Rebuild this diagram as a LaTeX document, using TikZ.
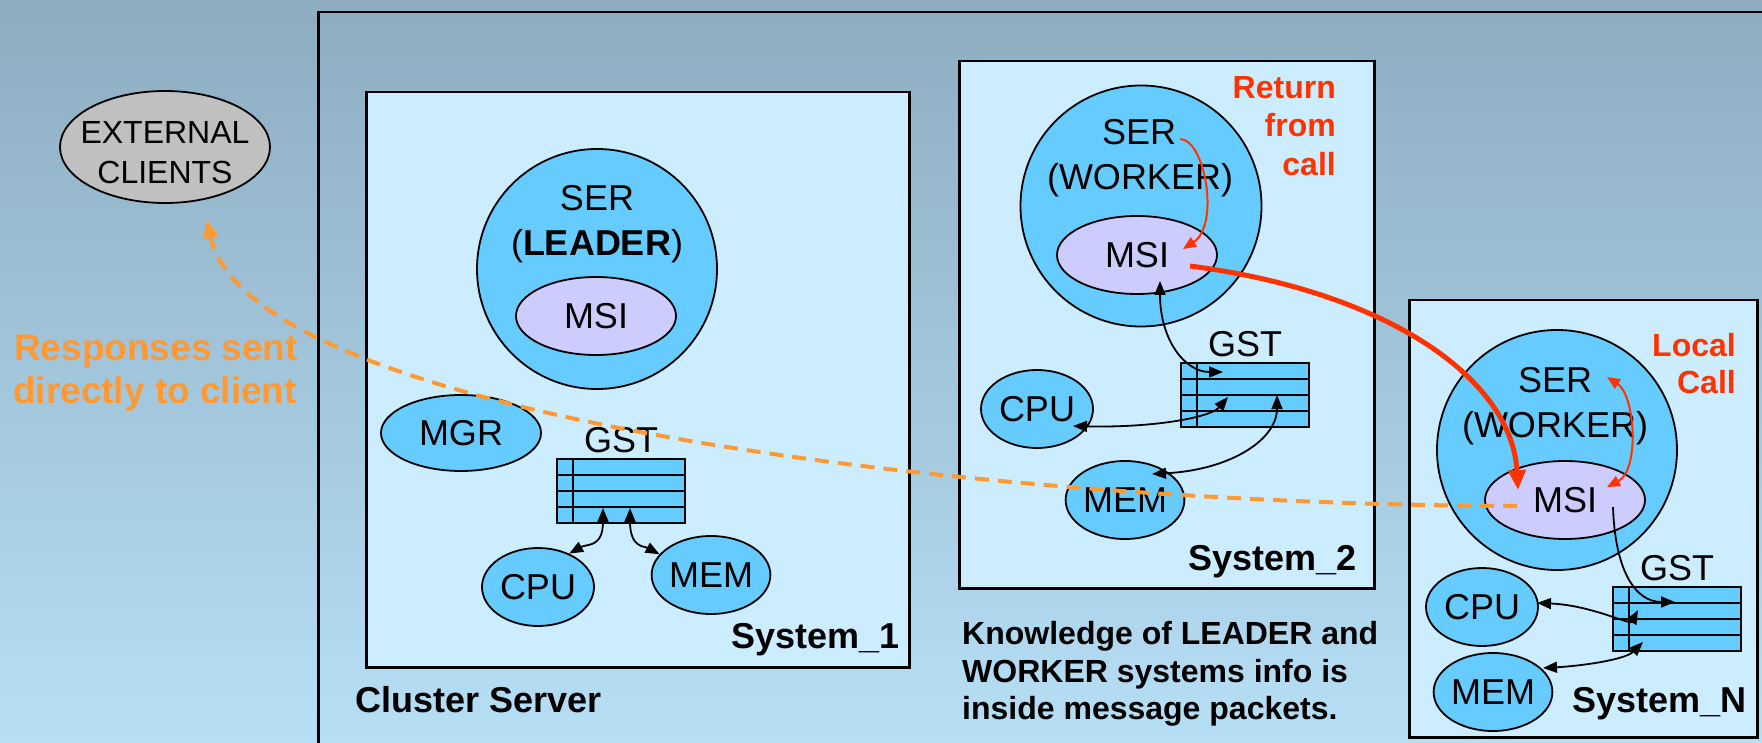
\documentclass[tikz,border=0pt]{standalone}
\usepackage{fontspec}
\setmainfont{Liberation Sans}
\usetikzlibrary{arrows.meta,calc,shapes.geometric}

\definecolor{bgtop}{RGB}{141,172,192}
\definecolor{bgbot}{RGB}{182,223,246}
\definecolor{sysfill}{HTML}{CCECFF}
\definecolor{serfill}{HTML}{66CCFF}
\definecolor{msifill}{HTML}{CCCCFF}
\definecolor{extfill}{HTML}{C0C0C0}
\definecolor{callred}{HTML}{FF3300}
\definecolor{respor}{HTML}{FF9933}

\tikzset{
  clusterbox/.style={draw=black, line width=2.5pt, inner sep=0, anchor=north west},
  sysbox/.style={draw=black, line width=2.5pt, fill=sysfill, inner sep=0, anchor=north west},
  sercircle/.style={circle, draw=black, line width=1.8pt, fill=serfill, inner sep=0, minimum size=#1},
  ovalnode/.style={ellipse, draw=black, line width=1.8pt, inner sep=0,
                   font=\fontsize{36}{43}\selectfont},
  msinode/.style={ovalnode, fill=msifill, minimum width=160pt, minimum height=78pt},
  devnode/.style={ovalnode, fill=serfill, minimum width=112pt, minimum height=78pt},
  gstbox/.style={draw=black, line width=2.5pt, fill=serfill, inner sep=0, outer sep=0,
                 minimum width=128pt, minimum height=64pt, anchor=north west},
  gstline/.style={draw=black, line width=2.5pt},
  lbltext/.style={inner sep=0, font=\fontsize{36}{43}\selectfont},
  clienttext/.style={inner sep=0, font=\fontsize{32}{39}\selectfont, anchor=base},
  sysname/.style={inner sep=0, font=\fontsize{36}{43}\selectfont\bfseries},
  notetext/.style={inner sep=0, font=\fontsize{32}{38}\selectfont\bfseries},
  calltext/.style={notetext, text=callred, anchor=base east},
  resptext/.style={inner sep=0, font=\fontsize{37}{44}\selectfont\bfseries, text=respor, anchor=base west},
  dbllink/.style={line width=1.8pt,
    {Triangle[length=14pt,width=11pt]}-{Triangle[length=14pt,width=11pt]}},
  onelink/.style={line width=1.8pt, -{Triangle[length=14pt,width=11pt]}},
  redone/.style={draw=callred, line width=2pt, -{Triangle[length=13pt,width=11pt]}},
  reddbl/.style={draw=callred, line width=2pt,
    {Triangle[length=13pt,width=11pt]}-{Triangle[length=13pt,width=11pt]}},
  callarrow/.style={draw=callred, line width=5pt, -{Triangle[length=20pt,width=17pt]}},
  resparrow/.style={draw=respor, line width=4pt, dash pattern=on 14pt off 9pt,
    -{Triangle[length=18pt,width=15pt]}},
}

% status table: name, x and y of its upper left corner
\newcommand{\gsttable}[3]{%
  \node[gstbox] (#1) at (#2,#3) {};
  \draw[gstline] ([yshift=-16pt]#1.north west) -- ([yshift=-16pt]#1.north east);
  \draw[gstline] ([yshift=-32pt]#1.north west) -- ([yshift=-32pt]#1.north east);
  \draw[gstline] ([yshift=-48pt]#1.north west) -- ([yshift=-48pt]#1.north east);
  \draw[gstline] ([xshift=16pt]#1.north west) -- ([xshift=16pt]#1.south west);
  \node[lbltext, anchor=base] (#1lbl) at ([yshift=7pt]#1.north) {GST};
}

\begin{document}
\begin{tikzpicture}[x=1pt, y=1pt]
  \useasboundingbox (0,0) rectangle (1762,-743);
  \clip (0,0) rectangle (1762,-743);
  \shade[top color=bgtop, bottom color=bgbot] (0,0) rectangle (1762,-743);

  % cluster frame
  \node[clusterbox, minimum width=1500pt, minimum height=800pt] (cluster) at (317,-11) {};
  \node[sysname, anchor=base west] (clustername) at (355,-712) {Cluster Server};

  % external clients
  \node[ellipse, draw=black, line width=1.8pt, fill=extfill, inner sep=0,
        minimum width=210pt, minimum height=112pt] (ext) at (165,-147) {};
  \node[clienttext] (ext1) at (165,-144) {EXTERNAL};
  \node[clienttext] (ext2) at (165,-184) {CLIENTS};

  % ---------------- System_1 (leader) ----------------
  \node[sysbox, minimum width=543pt, minimum height=575pt] (sys1) at (365,-91) {};
  \node[sercircle=240pt] (serc1) at (597,-269) {};
  \node[lbltext, anchor=base] (ser1a) at (597,-211) {SER};
  \node[lbltext, anchor=base] (ser1b) at (597,-256) {(\textbf{LEADER})};
  \node[msinode] (msi1) at (596,-316) {MSI};
  \node[devnode, minimum width=160pt, minimum height=76pt] (mgr) at (461,-433) {MGR};
  \gsttable{gst1}{557}{-459}
  \node[devnode] (cpu1) at (538,-587) {CPU};
  \node[devnode] (mem1) at (711,-575) {MEM};
  \node[sysname, anchor=base east] (sys1name) at (900,-648) {System\_1};

  % ---------------- System_2 (worker) ----------------
  \node[sysbox, minimum width=415pt, minimum height=527pt] (sys2) at (958,-60) {};
  \node[sercircle=241pt] (serc2) at (1141,-206) {};
  \node[lbltext, anchor=base] (ser2a) at (1139,-145) {SER};
  \node[lbltext, anchor=base] (ser2b) at (1140,-190) {(WORKER)};
  \node[msinode] (msi2) at (1137,-255) {MSI};
  \gsttable{gst2}{1181}{-363}
  \node[devnode] (cpu2) at (1037,-409) {CPU};
  \node[devnode] (mem2) at (1125,-500) {MEM};
  \node[sysname, anchor=base east] (sys2name) at (1357,-570) {System\_2};
  \node[calltext] (ret1) at (1336,-99) {Return};
  \node[calltext] (ret2) at (1336,-137) {from};
  \node[calltext] (ret3) at (1336,-176) {call};

  % ---------------- System_N (worker) ----------------
  \node[sysbox, minimum width=348pt, minimum height=437pt] (sysN) at (1408,-299) {};
  \node[sercircle=240pt] (sercN) at (1557,-450) {};
  \node[lbltext, anchor=base] (serNa) at (1555,-392) {SER};
  \node[lbltext, anchor=base] (serNb) at (1555,-437) {(WORKER)};
  \node[msinode] (msiN) at (1565,-500) {MSI};
  \gsttable{gstN}{1613}{-587}
  \node[devnode] (cpuN) at (1482,-607) {CPU};
  \node[devnode] (memN) at (1493,-692) {MEM};
  \node[sysname, anchor=base east] (sysNname) at (1747,-712) {System\_N};
  \node[calltext] (loc1) at (1736,-356) {Local};
  \node[calltext] (loc2) at (1736,-393) {Call};

  % notes
  \node[notetext, anchor=base west] (know1) at (962,-644) {Knowledge of LEADER and};
  \node[notetext, anchor=base west] (know2) at (962,-682) {WORKER systems info is};
  \node[notetext, anchor=base west] (know3) at (962,-719) {inside message packets.};
  \node[resptext] (resp1) at (14,-360) {Responses sent};
  \node[resptext] (resp2) at (13,-403) {directly to client};

  % status table links, System_1
  \draw[dbllink] ($(gst1.north west)+(46,-49)$) .. controls +(0,-40) and +(18,10) .. (cpu1.47);
  \draw[dbllink] ($(gst1.north west)+(73,-49)$) .. controls +(0,-40) and +(-15,8) .. (mem1.158);

  % status table links, System_2
  \draw[dbllink] ($(msi2.center)+(23,-26)$) .. controls +(0,-59) and +(-38,0) .. ($(gst2.north west)+(42,-9)$);
  \draw[dbllink] ($(cpu2.center)+(36,-17)$) .. controls +(77,-2) and +(-18,-21) .. ($(gst2.north west)+(47,-34)$);
  \draw[dbllink] ($(mem2.center)+(27,26)$) .. controls +(78,4) and +(0,-45) .. ($(gst2.north west)+(96,-32)$);

  % status table links, System_N
  \draw[onelink] ($(msiN.center)+(48,-7)$) .. controls +(2,-63) and +(-40,0) .. ($(gstN.north west)+(62,-15)$);
  \draw[dbllink] ($(cpuN.center)+(55,4)$) .. controls +(53,-2) and +(-8,-15) .. ($(gstN.north west)+(25,-23)$);
  \draw[dbllink] ($(memN.center)+(50,24)$) .. controls +(37,2) and +(-18,-18) .. ($(gstN.north west)+(30,-55)$);

  % return and local calls
  \draw[redone] ($(ser2a.base east)+(4,6)$) .. controls +(25,-1) and +(37,24) .. ($(msi2.center)+(46,6)$);
  \draw[reddbl] ($(sercN.center)+(50,73)$) .. controls +(28,-18) and +(33,17) .. ($(msiN.center)+(42,13)$);
  \draw[callarrow] ($(msi2.center)+(53,-11)$) .. controls +(200,-26) and +(-6,110) .. ($(msiN.center)+(-47,10)$);

  % responses back to the clients
  \draw[resparrow] ($(msiN.center)+(-48,-6)$) .. controls +(-517,1) and +(43,-201) .. ($(ext.south)+(42,-16)$);
\end{tikzpicture}
\end{document}
